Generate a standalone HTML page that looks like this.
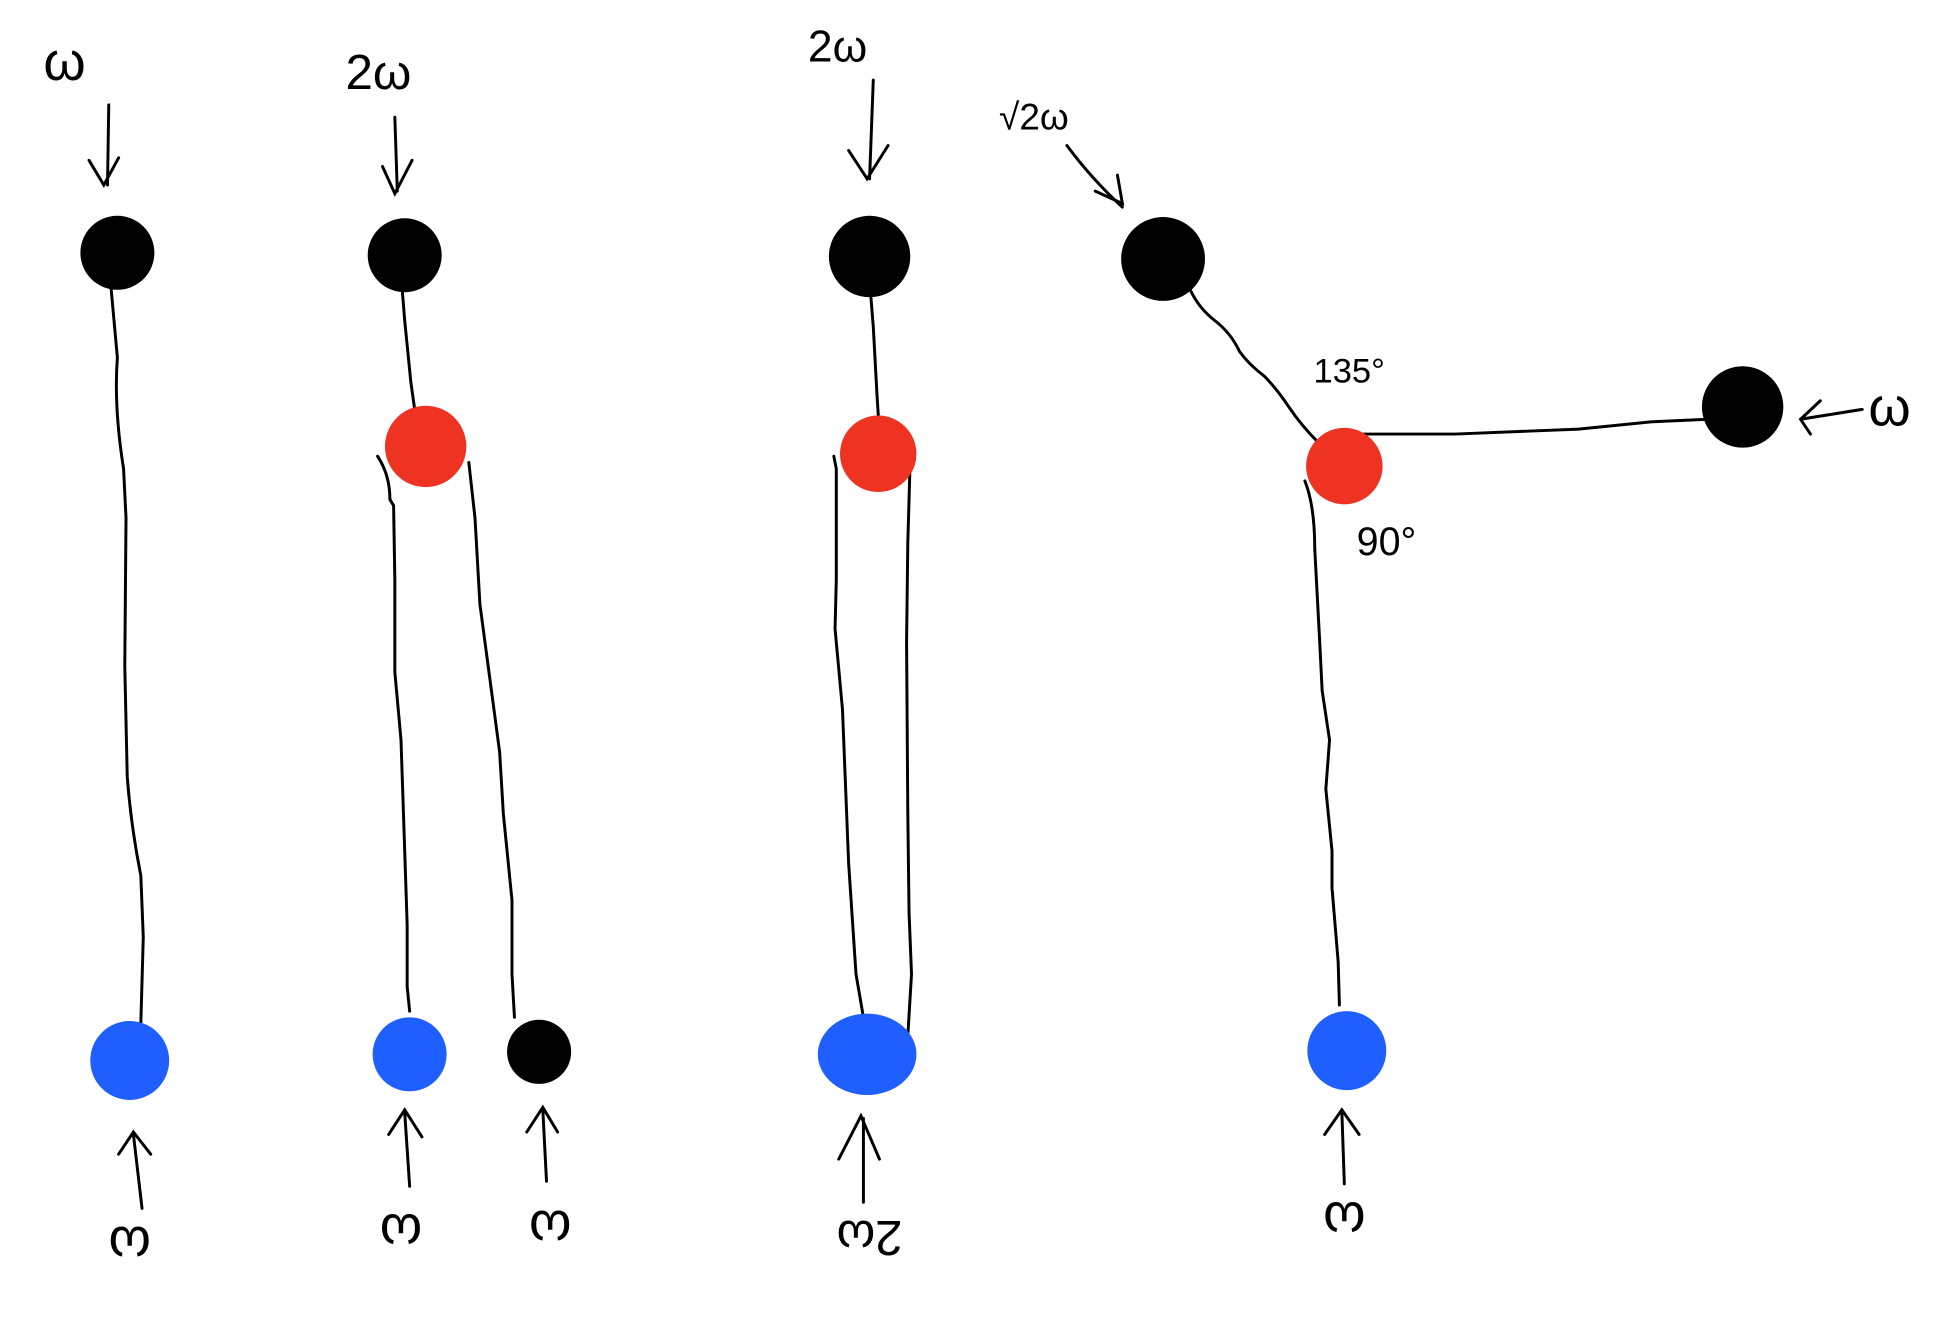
<!DOCTYPE html>
<html><head><meta charset="utf-8"><style>
html,body{margin:0;padding:0;background:#fff;}
svg{display:block}
text{font-family:"Liberation Sans","DejaVu Sans",sans-serif;fill:#000;}
</style></head><body>
<svg width="1934" height="1333" viewBox="0 0 1568 1081" xmlns="http://www.w3.org/2000/svg">
<g fill="none" stroke="#000" stroke-width="2.4" stroke-linecap="round">
<path d="M90 235 L95 290 Q92 330 100 380 L102 420 L101 540 L103 630 Q106 670 114 710 L116 760 L114 830"/>
<path d="M326 235 L328 260 L333 310 L340 360"/>
<path d="M306 370 Q316 385 316 405 L319 410 L320 470 L320 545 L325 600 L330 750 L330 800 L332 820"/>
<path d="M380 375 L385 420 L389 490 L405 610 L408 660 L415 730 L415 790 L417 825"/>
<path d="M706 240 L708 265 L711 320 L714 368"/>
<path d="M676 370 L678 380 L678 470 L677 510 L683 575 L684 600 L688 700 L694 790 L700 825"/>
<path d="M738 370 L736 440 L735 520 L736 660 L737 740 L739 790 L736 840"/>
<path d="M965 235 Q972 250 985 260 Q998 270 1005 285 Q1012 295 1025 305 Q1035 315 1045 330 Q1055 345 1070 360 L1088 380"/>
<path d="M1100 352 L1180 352 L1280 348 L1340 342 L1385 340"/>
<path d="M1058 390 Q1066 410 1066 445 L1070 520 L1072 560 L1078 600 L1075 640 L1080 690 L1080 720 L1085 780 L1086 815"/>
<path d="M88 85 L87 150 M72 130 L84 150 L96 128"/>
<path d="M320 95 L322 155 M310 135 L320 157 L334 130"/>
<path d="M708 65 L705 145 M688 122 L703 145 L720 118"/>
<path d="M865 118 Q885 145 910 168 M888 155 L910 165 L906 142"/>
<path d="M1510 332 L1460 340 M1476 325 L1460 340 L1468 352"/>
<path d="M115 980 L108 920 M96 936 L108 918 L122 936"/>
<path d="M332 962 L328 902 M315 920 L328 900 L342 922"/>
<path d="M443 958 L440 900 M427 918 L440 898 L452 918"/>
<path d="M700 975 L700 907 M680 940 L698 905 L713 940"/>
<path d="M1090 960 L1088 902 M1074 920 L1088 900 L1102 920"/>
</g>
<g stroke="none">
<circle cx="95" cy="205" r="30" fill="#000"/>
<circle cx="105" cy="860" r="32" fill="#1f5eff"/>
<circle cx="328" cy="207" r="30" fill="#000"/>
<circle cx="345" cy="362" r="33" fill="#ee3322"/>
<circle cx="332" cy="855" r="30" fill="#1f5eff"/>
<circle cx="437" cy="853" r="26" fill="#000"/>
<circle cx="705" cy="208" r="33" fill="#000"/>
<circle cx="712" cy="368" r="31" fill="#ee3322"/>
<ellipse cx="703" cy="855" rx="40" ry="33" fill="#1f5eff"/>
<circle cx="943" cy="210" r="34" fill="#000"/>
<circle cx="1090" cy="378" r="31" fill="#ee3322"/>
<circle cx="1413" cy="330" r="33" fill="#000"/>
<circle cx="1092" cy="852" r="32" fill="#1f5eff"/>
</g>
<text x="35" y="65" font-size="44">ω</text>
<text x="280" y="72" font-size="40">2ω</text>
<text x="655" y="50" font-size="36">2ω</text>
<text x="810" y="105" font-size="30">√2ω</text>
<text x="1065" y="310" font-size="28">135°</text>
<text x="1100" y="450" font-size="32">90°</text>
<text x="1515" y="345" font-size="44">ω</text>
<text transform="translate(105,995) rotate(180)" font-size="44" text-anchor="middle">ω</text>
<text transform="translate(325,985) rotate(180)" font-size="44" text-anchor="middle">ω</text>
<text transform="translate(446,982) rotate(180)" font-size="44" text-anchor="middle">ω</text>
<text transform="translate(705,990) rotate(180)" font-size="40" text-anchor="middle">2ω</text>
<text transform="translate(1090,975) rotate(180)" font-size="44" text-anchor="middle">ω</text>
</svg>
</body></html>
